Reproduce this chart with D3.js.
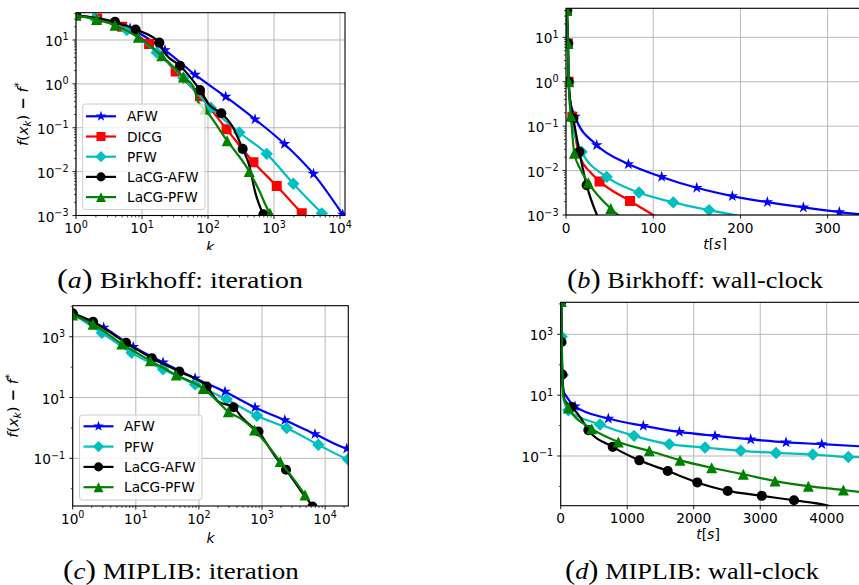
<!DOCTYPE html>
<html>
<head>
<meta charset="utf-8">
<script src="https://cdn.jsdelivr.net/npm/d3@7"></script>
<style>
  body { margin: 0; background: #fff; }
  svg { display: block; }
  text { font-family: "DejaVu Sans", sans-serif; }
</style>
</head>
<body>
<svg id="fig" width="859" height="585"></svg>
<script>
// ---------------- data ----------------
// [x, f(x_k) - f*] ; "marks" carry a marker, "bends" only shape the line

// (a) Birkhoff, iteration k
const aAFW = [[1,36.6],[6.6,18.3],[22.3,5.9],[63.5,1.62],[185,0.51],[516,0.156],[1440,0.0427],[3960,0.0089],[11000,0.00105]];
const aDICG = [[1,36.6],[2.1,31],[5,20],[12.8,8.1],[32.4,1.92],[75.6,0.525],[191,0.093],[488,0.0164],[1100,0.0047],[2630,0.00112]];
const aDICGBends = [[2900,0.00095]];
const aPFW = [[1,36.6],[1.94,31],[5.9,16.8],[16.7,5.2],[42.3,1.37],[110,0.287],[298,0.078],[775,0.0254],[1960,0.0053],[5300,0.00112]];
const aPFWBends = [[5900,0.00095]];
const aLaCGAFW = [[1,36.6],[3.9,25.9],[8,17.4],[18.3,8.7],[37.7,2.59],[75.6,0.72],[159,0.214],[335,0.033],[690,0.00107]];
const aLaCGAFWBends = [[22.3,5.0],[107,0.32],[229,0.114],[422,0.0138],[516,0.0035],[720,0.00095]];
const aLaCGPFW = [[1,36.6],[2.05,29.3],[3.9,21.8],[8.8,11.5],[19.9,4.35],[42.3,1.44],[90,0.263],[195,0.0506],[422,0.0101],[870,0.00112]];
const aLaCGPFWBends = [[60,0.855],[71,0.385],[577,0.0041],[950,0.00095]];

// (b) Birkhoff, wall-clock t[s]
const bAFW = [[1,40],[10.3,0.163],[35.2,0.0375],[71.5,0.014],[109.7,0.0072],[149.9,0.0041],[190.7,0.00267],[230.9,0.00195],[272.2,0.00148],[313.4,0.00116]];
const bAFWBends = [[2.2,7],[3,1.3],[4.6,0.39],[345,0.001]];
const bDICG = [[1,40],[2.2,7.3],[3,1.0],[7.3,0.163],[38.5,0.0057],[73.4,0.00206]];
const bDICGBends = [[10,0.07],[16,0.0204],[27.5,0.0094],[102,0.00095]];
const bPFW = [[1,40],[2.2,7.3],[3.2,1.0],[18,0.0264],[46.6,0.0072],[83.7,0.0032],[123,0.00192],[164,0.00129]];
const bPFWBends = [[6.5,0.115],[12.3,0.049],[197,0.00097]];
const bLaCGAFW = [[1,40],[2.2,7.3],[3,1.0],[8.4,0.15],[15.3,0.0264],[23.7,0.0047]];
const bLaCGAFWBends = [[4.6,0.39],[18,0.0145],[36,0.00095]];
const bLaCGPFW = [[1,40],[2.2,7.3],[3,1.0],[5.7,0.17],[9.5,0.0244],[25.6,0.0053],[51.3,0.0014]];
const bLaCGPFWBends = [[16,0.0112],[61,0.00095]];

// (c) MIPLIB, iteration k
const cAFW = [[1,5600],[3.1,2000],[9.1,466],[27,142],[87,43],[259,15.5],[775,4.7],[2300,1.8],[6900,0.63],[22000,0.21]];
const cAFWBends = [[24000,0.2]];
const cPFW = [[1,5600],[2.9,1350],[8.6,295],[27,85],[87,27],[275,8.7],[830,2.5],[2460,1.0],[7800,0.28],[23000,0.093]];
const cPFWBends = [[24000,0.09]];
const cLaCGAFW = [[1,5900],[2.1,3100],[7,630],[18,195],[49,71],[133,23],[352,4.8],[880,0.76],[2400,0.042],[6300,0.0026]];
const cLaCGAFWBends = [[204,7.3],[475,2.3],[690,1.1],[1180,0.31],[1700,0.1],[4000,0.0092],[7000,0.0018]];
const cLaCGPFW = [[1,5200],[2.1,2560],[6,575],[17,162],[43.6,55],[117,20],[293,3.4],[760,0.85],[1940,0.078],[4800,0.0062]];
const cLaCGPFWBends = [[215,6.3],[450,2.1],[1050,0.4],[5300,0.0045]];

// (d) MIPLIB, wall-clock t[s]
const dAFW = [[10,12000],[215,4.3],[716,1.7],[1242,0.98],[1784,0.62],[2320,0.46],[2857,0.35],[3388,0.28],[3925,0.245]];
const dAFWBends = [[15,52],[40,14.6],[90,8.8],[4550,0.205]];
const dPFW = [[10,12000],[15,830],[30,46],[115,3.2],[591,1.09],[1102,0.46],[1633,0.245],[2170,0.19],[2707,0.148],[3238,0.126],[3790,0.112],[4325,0.093]];
const dPFWBends = [[45,6.9],[4550,0.091]];
const dLaCGAFW = [[10,12000],[12,560],[25,48],[166,4.1],[416,0.71],[782,0.2],[1182,0.072],[1609,0.032],[2054,0.0135],[2511,0.0071],[3023,0.0049],[3508,0.0035]];
const dLaCGAFWBends = [[60,7],[290,1.94],[4000,0.0024],[4100,0.0021]];
const dLaCGPFW = [[10,12000],[115,3.8],[466,0.79],[866,0.29],[1332,0.148],[1794,0.072],[2270,0.041],[2746,0.025],[3222,0.015],[3723,0.0102],[4250,0.0076]];
const dLaCGPFWBends = [[20,150],[40,9],[4550,0.0064]];

const linTicksB = [0, 100, 200, 300];
const linTicksD = [0, 1000, 2000, 3000, 4000];

// ---------------- styles ----------------
const color = {"AFW":"#0000ff","DICG":"#ff0000","PFW":"#00bfbf","LaCG-AFW":"#000000","LaCG-PFW":"#008000"};

function markerPath(name, k) {
  if (name === "AFW") return d3.symbol(d3.symbolStar, 42 * k * k)();
  if (name === "LaCG-AFW") return d3.symbol(d3.symbolCircle, 80 * k * k)();
  var r;
  if (name === "DICG") { r = 5 * k; return `M${-r},${-r}H${r}V${r}H${-r}Z`; }
  if (name === "PFW") { r = 6.2 * k; return `M0,${-r}L${r},0L0,${r}L${-r},0Z`; }
  r = 5.5 * k; // triangle up
  return `M0,${-r}L${r},${r}L${-r},${r}Z`;
}

const svg = d3.select("#fig");

function supLabel(sel, e) {
  sel.append("tspan").text("10");
  sel.append("tspan").attr("font-size", 9.6).attr("dy", -5.5)
    .text(e < 0 ? "\u2212" + (-e) : e);
}

function drawPanel(p) {
  const root = svg.append("g");
  if (p.clipBottom) {
    root.append("clipPath").attr("id", "rc-" + p.id)
      .append("rect").attr("x", 0).attr("y", 0).attr("width", 859).attr("height", p.clipBottom);
    root.attr("clip-path", `url(#rc-${p.id})`);
  }
  const box = p.box;
  const x = (p.xLog ? d3.scaleLog() : d3.scaleLinear()).domain(p.xDomain).range([box.l, box.r]);
  const y = d3.scaleLog().domain(p.yDomain).range([box.b, box.t]);

  // major / minor ticks
  var xMajor, xMinor = [];
  if (p.xLog) {
    xMajor = d3.range(0, 6).map(e => Math.pow(10, e)).filter(v => v >= p.xDomain[0] && v <= p.xDomain[1]);
    d3.range(0, 6).forEach(e => d3.range(2, 10).forEach(s => {
      var v = s * Math.pow(10, e);
      if (v > p.xDomain[0] && v < p.xDomain[1]) xMinor.push(v);
    }));
  } else {
    xMajor = p.xTicks;
  }
  var yMajor = [], yMinor = [];
  d3.range(-4, 6).forEach(e => {
    var v = Math.pow(10, e);
    var inside = v >= p.yDomain[0] * 0.999 && v <= p.yDomain[1];
    if (((e - p.yBase) % p.yStep + p.yStep) % p.yStep === 0) { if (inside) yMajor.push(e); }
    else if (inside) yMinor.push(v);
    if (p.yStep === 1) d3.range(2, 10).forEach(s => {
      var w = s * v;
      if (w > p.yDomain[0] && w < p.yDomain[1]) yMinor.push(w);
    });
  });

  const clipId = "clip-" + p.id;
  root.append("clipPath").attr("id", clipId)
    .append("rect").attr("x", box.l).attr("y", box.t)
    .attr("width", box.r - box.l).attr("height", box.b - box.t);

  // grid
  const grid = root.append("g").attr("stroke", "#b8b8b8").attr("stroke-width", 1);
  grid.selectAll("line.gx").data(xMajor).join("line")
    .attr("x1", d => x(d)).attr("x2", d => x(d)).attr("y1", box.t).attr("y2", box.b);
  grid.selectAll("line.gy").data(yMajor).join("line")
    .attr("y1", d => y(Math.pow(10, d))).attr("y2", d => y(Math.pow(10, d)))
    .attr("x1", box.l).attr("x2", box.r);

  // series
  const plot = root.append("g").attr("clip-path", `url(#${clipId})`);
  const line = d3.line().x(d => x(d[0])).y(d => y(d[1])).curve(d3.curveMonotoneX);
  p.series.forEach(s => {
    const pts = s.marks.concat(s.bends || []).sort((u, v) => u[0] - v[0]);
    plot.append("path").attr("d", line(pts))
      .attr("fill", "none").attr("stroke", color[s.name]).attr("stroke-width", 2.2)
      .attr("stroke-linejoin", "round");
    plot.append("g").selectAll("path").data(s.marks).join("path")
      .attr("transform", d => `translate(${x(d[0])},${y(d[1])})`)
      .attr("d", markerPath(s.name, 1))
      .attr("fill", color[s.name]);
  });

  // spines
  root.append("rect").attr("x", box.l).attr("y", box.t)
    .attr("width", box.r - box.l).attr("height", box.b - box.t)
    .attr("fill", "none").attr("stroke", "#000").attr("stroke-width", 1.1);

  // tick marks
  const tk = root.append("g").attr("stroke", "#000").attr("stroke-width", 0.9);
  tk.selectAll("line.xM").data(xMajor).join("line")
    .attr("x1", d => x(d)).attr("x2", d => x(d)).attr("y1", box.b).attr("y2", box.b + 3.5);
  tk.selectAll("line.xm").data(xMinor).join("line")
    .attr("x1", d => x(d)).attr("x2", d => x(d)).attr("y1", box.b).attr("y2", box.b + 2)
    .attr("stroke-width", 0.7);
  tk.selectAll("line.yM").data(yMajor).join("line")
    .attr("y1", d => y(Math.pow(10, d))).attr("y2", d => y(Math.pow(10, d)))
    .attr("x1", box.l).attr("x2", box.l - 3.5);
  tk.selectAll("line.ym").data(yMinor).join("line")
    .attr("y1", d => y(d)).attr("y2", d => y(d)).attr("x1", box.l).attr("x2", box.l - 2)
    .attr("stroke-width", 0.7);

  // tick labels
  const lab = root.append("g").attr("font-size", 13.7).attr("fill", "#000");
  yMajor.forEach(e => {
    const t = lab.append("text").attr("text-anchor", "end")
      .attr("x", box.l - 7.5).attr("y", y(Math.pow(10, e)) + 6);
    supLabel(t, e);
  });
  xMajor.forEach(v => {
    const t = lab.append("text").attr("text-anchor", "middle")
      .attr("x", x(v)).attr("y", box.b + 17.5);
    if (p.xLog) supLabel(t, Math.round(Math.log10(v)));
    else t.text(d3.format("d")(v));
  });

  // axis labels
  const xl = root.append("text").attr("text-anchor", "middle").attr("font-size", 14)
    .attr("x", p.xLabelPos[0]).attr("y", p.xLabelPos[1]);
  if (p.xLabel === "k") xl.append("tspan").attr("font-style", "italic").text("k");
  else {
    xl.append("tspan").attr("font-style", "italic").text("t");
    xl.append("tspan").text("[");
    xl.append("tspan").attr("font-style", "italic").text("s");
    xl.append("tspan").text("]");
  }
  if (p.yLabelX) {
    const yl = root.append("text").attr("text-anchor", "middle").attr("font-size", 14.6)
      .attr("transform", `translate(${p.yLabelX},${(box.t + box.b) / 2}) rotate(-90)`);
    yl.append("tspan").attr("font-style", "italic").text("f");
    yl.append("tspan").text("(");
    yl.append("tspan").attr("font-style", "italic").text("x");
    yl.append("tspan").attr("font-style", "italic").attr("font-size", 10.2).attr("dy", 3).text("k");
    yl.append("tspan").attr("dy", -3).text(")");
    yl.append("tspan").attr("font-weight", "bold").text(" \u2212 ");
    yl.append("tspan").attr("font-style", "italic").text("f");
    yl.append("tspan").attr("font-size", 10.2).attr("dy", -5.5).text("*");
  }

  // legend
  if (p.legend) {
    const L = p.legend;
    const lg = root.append("g");
    lg.append("rect").attr("x", L.x0).attr("y", L.y0)
      .attr("width", L.x1 - L.x0).attr("height", L.y1 - L.y0).attr("rx", 3)
      .attr("fill", "#fff").attr("fill-opacity", 0.8)
      .attr("stroke", "#cccccc").attr("stroke-width", 1);
    p.series.forEach((s, i) => {
      const yy = L.row0 + i * L.rowStep;
      lg.append("line").attr("x1", L.hx0).attr("x2", L.hx1).attr("y1", yy).attr("y2", yy)
        .attr("stroke", color[s.name]).attr("stroke-width", 2.2);
      lg.append("path").attr("transform", `translate(${(L.hx0 + L.hx1) / 2},${yy})`)
        .attr("d", markerPath(s.name, 0.9)).attr("fill", color[s.name]);
      lg.append("text").attr("x", L.tx).attr("y", yy + 5).attr("font-size", 13.7).text(s.name);
    });
  }
}

const panels = [
  { id: "a", box: {l: 76, r: 345, t: 12.7, b: 215.5}, xLog: true, xDomain: [1, 11900],
    yDomain: [1e-3, 41.9], yStep: 1, yBase: 0, clipBottom: 250,
    xLabel: "k", xLabelPos: [210, 252], yLabelX: 27.5,
    series: [
      {name: "AFW", marks: aAFW},
      {name: "DICG", marks: aDICG, bends: aDICGBends},
      {name: "PFW", marks: aPFW, bends: aPFWBends},
      {name: "LaCG-AFW", marks: aLaCGAFW, bends: aLaCGAFWBends},
      {name: "LaCG-PFW", marks: aLaCGPFW, bends: aLaCGPFWBends}],
    legend: {x0: 82.7, y0: 104, x1: 205, y1: 209.5, row0: 116.3, rowStep: 20.2, hx0: 86, hx1: 116, tx: 127} },
  { id: "b", box: {l: 566, r: 864, t: 8.3, b: 215}, xLog: false, xDomain: [0, 341.7], xTicks: linTicksB,
    yDomain: [1e-3, 45], yStep: 1, yBase: 0, clipBottom: 250,
    xLabel: "t[s]", xLabelPos: [715, 249],
    series: [
      {name: "AFW", marks: bAFW, bends: bAFWBends},
      {name: "DICG", marks: bDICG, bends: bDICGBends},
      {name: "PFW", marks: bPFW, bends: bPFWBends},
      {name: "LaCG-AFW", marks: bLaCGAFW, bends: bLaCGAFWBends},
      {name: "LaCG-PFW", marks: bLaCGPFW, bends: bLaCGPFWBends}] },
  { id: "c", box: {l: 72.7, r: 348.3, t: 305.7, b: 506}, xLog: true, xDomain: [1, 23300],
    yDomain: [0.0027, 10500], yStep: 2, yBase: 1,
    xLabel: "k", xLabelPos: [210.5, 543], yLabelX: 18,
    series: [
      {name: "AFW", marks: cAFW, bends: cAFWBends},
      {name: "PFW", marks: cPFW, bends: cPFWBends},
      {name: "LaCG-AFW", marks: cLaCGAFW, bends: cLaCGAFWBends},
      {name: "LaCG-PFW", marks: cLaCGPFW, bends: cLaCGPFWBends}],
    legend: {x0: 79.5, y0: 415, x1: 202, y1: 500, row0: 426.3, rowStep: 20.3, hx0: 83.5, hx1: 113.5, tx: 124} },
  { id: "d", box: {l: 560.7, r: 860, t: 302.3, b: 505.7}, xLog: false, xDomain: [0, 4500], xTicks: linTicksD,
    yDomain: [0.00232, 11300], yStep: 2, yBase: 1,
    xLabel: "t[s]", xLabelPos: [708, 539],
    series: [
      {name: "AFW", marks: dAFW, bends: dAFWBends},
      {name: "PFW", marks: dPFW, bends: dPFWBends},
      {name: "LaCG-AFW", marks: dLaCGAFW, bends: dLaCGAFWBends},
      {name: "LaCG-PFW", marks: dLaCGPFW, bends: dLaCGPFWBends}] }
];

panels.forEach(drawPanel);

// captions
const captions = [
  {letter: "a", text: " Birkhoff: iteration", x0: 57, x1: 303, base: 288},
  {letter: "b", text: " Birkhoff: wall-clock", x0: 567, x1: 823, base: 288},
  {letter: "c", text: " MIPLIB: iteration", x0: 63, x1: 299, base: 579},
  {letter: "d", text: " MIPLIB: wall-clock", x0: 565, x1: 819, base: 579}
];
captions.forEach(c => {
  const g = svg.append("g");
  const t = g.append("text").attr("x", 0).attr("y", 0)
    .style("font-family", "'Liberation Serif', 'DejaVu Serif', serif").attr("font-size", 24);
  t.append("tspan").attr("font-size", 28).text("(");
  t.append("tspan").attr("font-style", "italic").text(c.letter);
  t.append("tspan").attr("font-size", 28).text(")");
  t.append("tspan").text(c.text);
  const bb = t.node().getBBox();
  g.attr("transform", `translate(${c.x0 - bb.x * (c.x1 - c.x0) / bb.width},${c.base}) scale(${(c.x1 - c.x0) / bb.width},1)`);
});
</script>
</body>
</html>
